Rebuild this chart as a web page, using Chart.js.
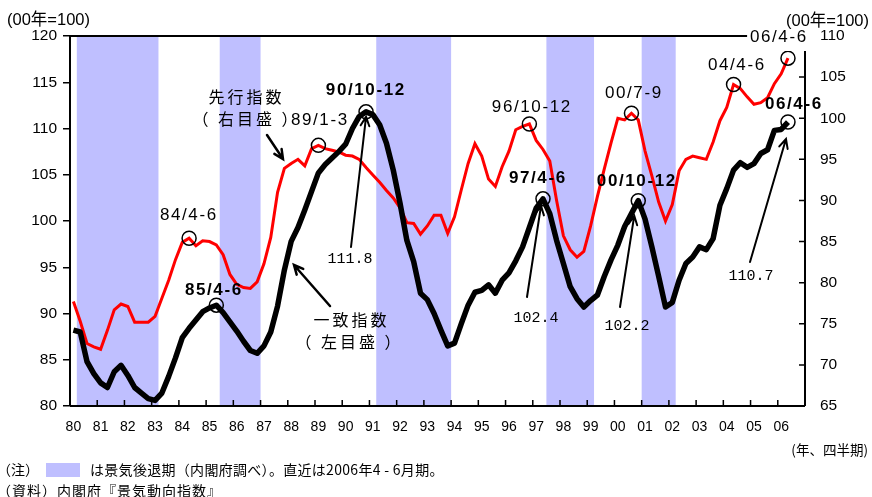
<!DOCTYPE html>
<html lang="ja">
<head>
  <meta charset="UTF-8">
  <meta name="viewport" content="width=device-width, initial-scale=1.0">
  <title>景気動向指数</title>
  <script src="https://cdn.jsdelivr.net/npm/chart.js"></script>
  <style>
    html, body { margin: 0; padding: 0; background: #FFFFFF; }
    #wrap { width: 872px; height: 497px; }
  </style>
</head>
<body>
  <div id="wrap"><canvas id="grafico" width="872" height="497"></canvas></div>

  <script>
    // year labels on the x axis (quarterly data, 1980Q1 - 2006Q4 on the axis)
    const years = ['80', '81', '82', '83', '84', '85', '86', '87', '88', '89', '90', '91', '92', '93',
                   '94', '95', '96', '97', '98', '99', '00', '01', '02', '03', '04', '05', '06'];
    const quarters = [];
    years.forEach(y => { for (let q = 1; q <= 4; q++) quarters.push(y + 'Q' + q); });

    // 一致指数 (left axis, 00年=100), 80Q1 .. 06Q2
    const coincident = [
      88.2, 88.0, 84.8, 83.5,  82.5, 82.0, 83.7, 84.4,  83.3, 82.0, 81.4, 80.8,
      80.6, 81.4, 83.2, 85.2,  87.4, 88.4, 89.3, 90.2,  90.6, 90.9, 90.1, 89.1,
      88.1, 87.0, 86.0, 85.7,  86.5, 88.0, 90.8, 94.7,  97.8, 99.3, 101.2, 103.2,
      105.2, 106.1, 106.8, 107.5,  108.3, 110.0, 111.3, 111.8,  111.5, 110.4, 108.4, 105.5,
      101.9, 97.9, 95.6, 92.2,  91.5, 90.0, 88.2, 86.5,  86.8, 88.9, 90.9, 92.3,
      92.5, 93.1, 92.2, 93.6,  94.4, 95.7, 97.2, 99.3,  101.4, 102.4, 100.8, 97.9,
      95.4, 92.9, 91.6, 90.7,  91.4, 92.0, 94.0, 95.8,  97.4, 99.4, 100.8, 102.2,
      100.2, 97.2, 94.0, 90.7,  91.2, 93.6, 95.4, 96.1,  97.2, 96.9, 98.1, 101.7,
      103.5, 105.5, 106.3, 105.8,  106.2, 107.3, 107.7, 109.8,  109.9, 110.7
    ];

    // 先行指数 (right axis, 00年=100), 80Q1 .. 06Q2
    const leading = [
      77.7, 75.3, 72.6, 72.2,  71.9, 74.2, 76.7, 77.4,  77.1, 75.2, 75.2, 75.2,
      75.9, 78.1, 80.3, 82.8,  84.9, 85.4, 84.5, 85.1,  85.0, 84.6, 83.4, 81.0,
      79.8, 79.4, 79.3, 80.1,  82.3, 85.5, 91.0, 93.9,  94.5, 95.0, 94.2, 96.3,
      96.7, 96.3, 96.1, 95.9,  95.5, 95.4, 95.0, 94.0,  93.1, 92.2, 91.2, 90.3,
      89.1, 87.3, 87.2, 85.9,  86.9, 88.2, 88.2, 86.0,  88.0, 91.3, 94.5, 96.9,
      95.4, 92.6, 91.7, 94.1,  96.0, 98.6, 99.0, 99.3,  97.3, 96.2, 94.8, 90.0,
      85.7, 84.0, 83.1, 83.8,  86.9, 90.5, 93.8, 97.0,  100.0, 99.8, 100.6, 99.8,
      96.0, 93.0, 89.8, 87.5,  89.5, 93.6, 95.0, 95.4,  95.2, 95.0, 97.1, 99.7,
      101.3, 104.1, 103.6, 102.6,  101.7, 101.9, 102.5, 104.2,  105.4, 107.3
    ];

    // 景気後退期 (first and last quarter shaded)
    const recessions = [['80Q2', '83Q1'], ['85Q3', '86Q4'], ['91Q2', '93Q4'], ['97Q3', '99Q1'], ['01Q1', '02Q1']];

    // circled turning points (quarter labels)
    const leadingPeaks = ['84Q2', '89Q1', '96Q4', '00Q3', '04Q2', '06Q2'];
    const coincidentPeaks = ['85Q2', '90Q4', '97Q2', '00Q4', '06Q2'];

    const SHADE = '#BFBFFF';
    const SANS = '"Liberation Sans", Arial, "Noto Sans CJK JP", sans-serif';
    const JP = '"Noto Sans CJK JP", "Liberation Sans", sans-serif';
    const MONO = '"Liberation Mono", "DejaVu Sans Mono", monospace';

    // annotation texts
    const labels = [
      { t: '先行指数', x: 245, y: 97, f: '16px ' + JP, ls: 3 },
      { t: '（ 右目盛 ）', x: 245, y: 119, f: '16px ' + JP, ls: 3 },
      { t: '一致指数', x: 350, y: 320, f: '16px ' + JP, ls: 3 },
      { t: '（ 左目盛 ）', x: 348, y: 342, f: '16px ' + JP, ls: 3 },
      { t: '84/4-6', x: 188, y: 215, f: '17px ' + SANS, ls: 1.6 },
      { t: '85/4-6', x: 213, y: 290, f: 'bold 17px ' + SANS, ls: 1.6 },
      { t: '89/1-3', x: 319, y: 120, f: '17px ' + SANS, ls: 1.6 },
      { t: '90/10-12', x: 365, y: 90, f: 'bold 17px ' + SANS, ls: 1.6 },
      { t: '111.8', x: 350, y: 259, f: '15px ' + MONO, ls: 0 },
      { t: '96/10-12', x: 531, y: 107, f: '17px ' + SANS, ls: 1.6 },
      { t: '97/4-6', x: 537, y: 178, f: 'bold 17px ' + SANS, ls: 1.6 },
      { t: '102.4', x: 536, y: 318, f: '15px ' + MONO, ls: 0 },
      { t: '00/7-9', x: 633, y: 93, f: '17px ' + SANS, ls: 1.6 },
      { t: '00/10-12', x: 636, y: 181, f: 'bold 17px ' + SANS, ls: 1.6 },
      { t: '102.2', x: 627, y: 326, f: '15px ' + MONO, ls: 0 },
      { t: '04/4-6', x: 736, y: 65, f: '17px ' + SANS, ls: 1.6 },
      { t: '06/4-6', x: 778, y: 37, f: '17px ' + SANS, ls: 1.6, bg: true },
      { t: '06/4-6', x: 793, y: 104, f: 'bold 17px ' + SANS, ls: 1.6 },
      { t: '110.7', x: 751, y: 276, f: '15px ' + MONO, ls: 0 }
    ];

    // arrows: tail in pixels, head relative to a data point (or absolute)
    const arrows = [
      { from: [267, 135], to: [283, 159], w: 2.5 },
      { from: [330, 306], to: [294, 265], w: 2.5 },
      { from: [351, 247], ds: 0, q: '90Q4', d: [0, 5], w: 2 },
      { from: [527, 297], ds: 0, q: '97Q2', d: [-2, 7], w: 2 },
      { from: [620, 307], ds: 0, q: '00Q4', d: [-4, 15], w: 2 },
      { from: [750, 262], ds: 0, q: '06Q2', d: [-2, 17], w: 2 }
    ];

    function drawArrow(ctx, x1, y1, x2, y2, w) {
      const ang = Math.atan2(y2 - y1, x2 - x1);
      const h = 10;
      ctx.save();
      ctx.strokeStyle = '#000';
      ctx.lineWidth = w;
      ctx.lineCap = 'round';
      ctx.beginPath();
      ctx.moveTo(x1, y1);
      ctx.lineTo(x2, y2);
      ctx.moveTo(x2 - h * Math.cos(ang - 0.45), y2 - h * Math.sin(ang - 0.45));
      ctx.lineTo(x2, y2);
      ctx.lineTo(x2 - h * Math.cos(ang + 0.45), y2 - h * Math.sin(ang + 0.45));
      ctx.stroke();
      ctx.restore();
    }

    const decor = {
      id: 'decor',
      beforeDatasetsDraw(chart) {
        const { ctx, chartArea: a } = chart;
        const x = chart.scales.x;
        const half = (x.getPixelForValue(1) - x.getPixelForValue(0)) / 2;
        ctx.save();
        ctx.fillStyle = SHADE;
        recessions.forEach(([s, e]) => {
          const x1 = x.getPixelForValue(quarters.indexOf(s)) - half;
          const x2 = x.getPixelForValue(quarters.indexOf(e)) + half;
          ctx.fillRect(x1, a.top, x2 - x1, a.bottom - a.top);
        });
        ctx.restore();
      },
      afterDraw(chart) {
        const { ctx, chartArea: a } = chart;
        const x = chart.scales.x, yR = chart.scales.yR;
        const half = (x.getPixelForValue(1) - x.getPixelForValue(0)) / 2;

        ctx.save();
        // frame
        ctx.strokeStyle = '#000';
        ctx.lineWidth = 2;
        ctx.beginPath();
        ctx.moveTo(a.left, a.top); ctx.lineTo(a.right, a.top);
        ctx.moveTo(a.left, a.top); ctx.lineTo(a.left, a.bottom);
        ctx.moveTo(a.left, a.bottom); ctx.lineTo(a.right, a.bottom);
        ctx.moveTo(a.right, a.top); ctx.lineTo(a.right, a.bottom);
        ctx.stroke();

        // inward ticks on the x axis, one per year
        ctx.lineWidth = 1.5;
        ctx.beginPath();
        for (let i = 4; i < quarters.length; i += 4) {
          const px = x.getPixelForValue(i) - half;
          ctx.moveTo(px, a.bottom); ctx.lineTo(px, a.bottom - 6);
        }
        // inward ticks on the right axis
        for (let v = 70; v < 110; v += 5) {
          const py = yR.getPixelForValue(v);
          ctx.moveTo(a.right - 6, py); ctx.lineTo(a.right, py);
        }
        ctx.stroke();

        // circles on turning points
        ctx.lineWidth = 1.5;
        const circ = (ds, q) => {
          const p = chart.getDatasetMeta(ds).data[quarters.indexOf(q)];
          ctx.beginPath();
          ctx.arc(p.x, p.y, 7, 0, Math.PI * 2);
          ctx.stroke();
        };
        leadingPeaks.forEach(q => circ(1, q));
        coincidentPeaks.forEach(q => circ(0, q));

        // arrows
        arrows.forEach(ar => {
          let tx, ty;
          if (ar.to) { [tx, ty] = ar.to; }
          else {
            const p = chart.getDatasetMeta(ar.ds).data[quarters.indexOf(ar.q)];
            tx = p.x + ar.d[0]; ty = p.y + ar.d[1];
          }
          drawArrow(ctx, ar.from[0], ar.from[1], tx, ty, ar.w);
        });

        // annotation texts
        ctx.textBaseline = 'middle';
        ctx.textAlign = 'center';
        labels.forEach(l => {
          ctx.font = l.f;
          ctx.letterSpacing = l.ls + 'px';
          if (l.bg) {
            const w = ctx.measureText(l.t).width;
            ctx.fillStyle = '#FFFFFF';
            ctx.fillRect(l.x - w / 2 - 2, l.y - 12, w + 4, 26);
          }
          ctx.fillStyle = '#000';
          ctx.fillText(l.t, l.x + l.ls / 2, l.y);
        });
        ctx.letterSpacing = '0px';

        // unit labels
        ctx.font = '16.5px ' + SANS;
        ctx.textAlign = 'left';
        ctx.fillText('(00年=100)', 7, 20);
        ctx.textAlign = 'right';
        ctx.fillText('(00年=100)', 869, 21);
        ctx.font = '13.5px ' + JP;
        ctx.fillText('(年、四半期)', 868, 450);

        // footnotes
        ctx.font = '14px ' + JP;
        ctx.textAlign = 'left';
        ctx.fillText('（注）', -3, 470);
        ctx.fillStyle = SHADE;
        ctx.fillRect(46, 463, 34, 14);
        ctx.fillStyle = '#000';
        ctx.letterSpacing = '0.3px';
        ctx.fillText('は景気後退期（内閣府調べ）。直近は2006年4 - 6月期。', 90, 470);
        ctx.letterSpacing = '1px';
        ctx.fillText('（資料）内閣府『景気動向指数』', -3, 491);
        ctx.restore();
      }
    };

    Chart.defaults.color = '#000';

    new Chart(document.getElementById('grafico').getContext('2d'), {
      type: 'line',
      data: {
        labels: quarters,
        datasets: [
          {
            label: '一致指数',
            data: coincident,
            yAxisID: 'yL',
            borderColor: '#000000',
            borderWidth: 5.5,
            pointRadius: 0,
            borderJoinStyle: 'round',
            tension: 0
          },
          {
            label: '先行指数',
            data: leading,
            yAxisID: 'yR',
            borderColor: '#FF0000',
            borderWidth: 3,
            pointRadius: 0,
            tension: 0
          }
        ]
      },
      options: {
        responsive: false,
        animation: false,
        layout: { padding: { top: 36, left: 0, right: 0, bottom: 0 } },
        plugins: { legend: { display: false }, tooltip: { enabled: false } },
        scales: {
          x: {
            type: 'category',
            offset: true,
            grid: { display: false, drawTicks: false },
            border: { display: false },
            ticks: {
              autoSkip: false,
              maxRotation: 0,
              minRotation: 0,
              padding: 13,
              font: { family: '"Liberation Sans Narrow", "Liberation Sans", Arial, sans-serif', size: 14 },
              callback: (v, i) => (i % 4 === 0 ? years[i / 4] : '')
            },
            afterFit: s => { s.height = 91; }
          },
          yL: {
            position: 'left',
            min: 80,
            max: 120,
            grid: { drawOnChartArea: false, tickLength: 7, color: '#000', lineWidth: 1.5 },
            border: { display: false },
            ticks: { stepSize: 5, padding: 6, font: { family: SANS, size: 15.5 } },
            afterFit: s => { s.width = 70; }
          },
          yR: {
            position: 'right',
            min: 65,
            max: 110,
            grid: { display: false, drawTicks: false },
            border: { display: false },
            ticks: { stepSize: 5, padding: 15, font: { family: SANS, size: 15.5 } },
            afterFit: s => { s.width = 67; }
          }
        }
      },
      plugins: [decor]
    });
  </script>
</body>
</html>
